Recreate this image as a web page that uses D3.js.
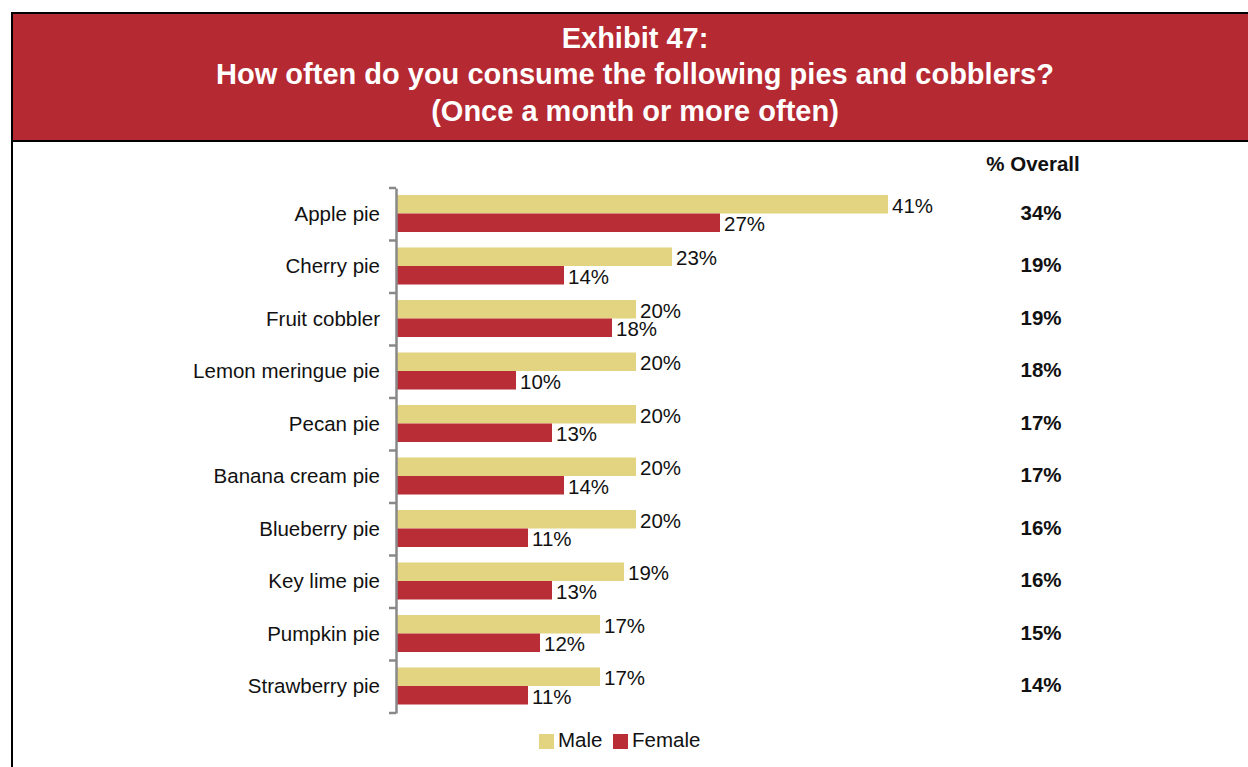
<!DOCTYPE html>
<html><head><meta charset="utf-8">
<script src="https://cdn.jsdelivr.net/npm/d3@7"></script>
<style>html,body{margin:0;padding:0;background:#fff;}svg{display:block;font-family:"Liberation Sans",Arial,sans-serif;}</style>
</head><body><svg id="c" width="1248" height="767"></svg>
<script>
const categories = ["Apple pie","Cherry pie","Fruit cobbler","Lemon meringue pie","Pecan pie","Banana cream pie","Blueberry pie","Key lime pie","Pumpkin pie","Strawberry pie"];
const male = [41,23,20,20,20,20,20,19,17,17];
const female = [27,14,18,10,13,14,11,13,12,11];
const overall = [34,19,19,18,17,17,16,16,15,14];
const seriesNames = ["Male","Female"];
const seriesColors = ["#e2d480","#b92d37"];
const titleLines = ["Exhibit 47:","How often do you consume the following pies and cobblers?","(Once a month or more often)"];

const svg = d3.select("#c");

// header
svg.append("rect").attr("x",12).attr("y",13).attr("width",1240).attr("height",128).attr("fill","#b52932").attr("stroke","#000").attr("stroke-width",2);
svg.append("line").attr("x1",12).attr("x2",12).attr("y1",13).attr("y2",767).attr("stroke","#000").attr("stroke-width",2);
const ty=[40,76,113];
titleLines.forEach((t,i)=>svg.append("text").attr("x",635).attr("y",ty[i]).attr("text-anchor","middle").attr("dominant-baseline","middle").attr("fill","#fff").attr("font-weight","bold").attr("font-size",29).text(t));

const x = d3.scaleLinear().domain([0,41]).range([396,888]);
const y = d3.scaleBand().domain(categories).range([188,713]);
const bh = 18.5, off = 7, fs = 20.5;

const g = svg.append("g");
categories.forEach((c,i)=>{
  const y0 = y(c);
  [male[i],female[i]].forEach((v,j)=>{
    g.append("rect").attr("x",x(0)).attr("y",y0+off+j*bh).attr("width",x(v)-x(0)).attr("height",bh).attr("fill",seriesColors[j]);
    g.append("text").attr("x",x(v)+4).attr("y",y0+off+j*bh+bh/2+3).attr("dominant-baseline","middle").attr("font-size",fs).attr("fill","#111").text(v+"%");
  });
  g.append("text").attr("x",1041).attr("y",y0+y.bandwidth()/2).attr("text-anchor","middle").attr("dominant-baseline","middle").attr("font-size",fs).attr("font-weight","bold").attr("fill","#111").text(overall[i]+"%");
});

const ax = d3.axisLeft(y).tickSize(0).tickPadding(16);
const axg = svg.append("g").attr("transform","translate(396,0)").call(ax);
axg.select(".domain").attr("stroke","#888").attr("stroke-width",2.5);
axg.selectAll("text").attr("font-size",fs).attr("fill","#111").attr("font-family","Liberation Sans, Arial, sans-serif");
const bounds = [...categories.map(c=>y(c)), y.range()[1]];
axg.selectAll(".bt").data(bounds).enter().append("line").attr("x1",-7).attr("x2",0).attr("y1",d=>d).attr("y2",d=>d).attr("stroke","#888").attr("stroke-width",2.5);

svg.append("text").attr("x",1033).attr("y",166).attr("text-anchor","middle").attr("dominant-baseline","middle").attr("font-size",fs).attr("font-weight","bold").attr("fill","#111").text("% Overall");

// legend
const lx=[539,613];
seriesNames.forEach((s,i)=>{
  svg.append("rect").attr("x",lx[i]).attr("y",734).attr("width",15).attr("height",15).attr("fill",seriesColors[i]);
  svg.append("text").attr("x",lx[i]+19).attr("y",742).attr("dominant-baseline","middle").attr("font-size",fs).attr("fill","#111").text(s);
});
</script></body></html>
